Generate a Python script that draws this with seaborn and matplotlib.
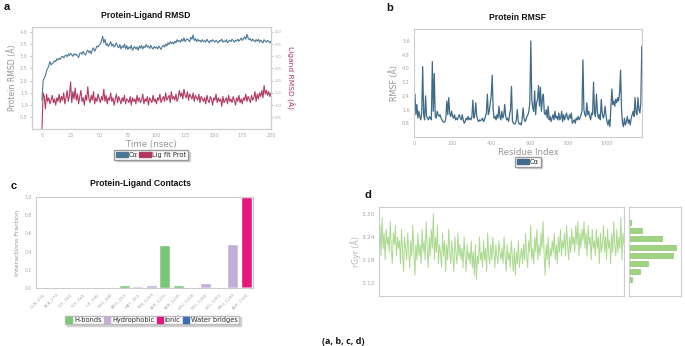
import numpy as np
import pandas as pd
import matplotlib
matplotlib.use("Agg")
import matplotlib.pyplot as plt
import seaborn as sns
from matplotlib.patches import Patch

# ---------------- data ----------------
time_ns = list(range(0, 201))
ca_rmsd = [
    1.2, 2.0, 2.1, 2.2, 2.4, 2.5, 2.62, 2.78, 2.65, 2.7, 2.75,
    2.82, 2.78, 2.9, 2.85, 2.92, 2.88, 2.97, 3.0, 2.93, 3.02,
    3.05, 2.98, 3.1, 3.03, 3.12, 3.07, 3.0, 3.1, 3.05, 3.08,
    3.02, 2.95, 3.12, 3.15, 3.08, 3.2, 3.1, 3.05, 3.18, 3.25,
    3.15, 3.22, 3.1, 3.28, 3.35, 3.2, 3.3, 3.42, 3.38, 3.45,
    3.5, 3.62, 3.82, 3.55, 3.7, 3.45, 3.52, 3.4, 3.48, 3.6,
    3.42, 3.5, 3.38, 3.45, 3.55, 3.4, 3.35, 3.48, 3.3, 3.42,
    3.36, 3.5, 3.3, 3.44, 3.28, 3.38, 3.32, 3.45, 3.25, 3.35,
    3.4, 3.3, 3.38, 3.25, 3.42, 3.33, 3.45, 3.3, 3.4, 3.36,
    3.48, 3.38, 3.42, 3.32, 3.45, 3.35, 3.3, 3.4, 3.34, 3.38,
    3.3, 3.42, 3.35, 3.28, 3.4, 3.45, 3.38, 3.5, 3.42, 3.55,
    3.48, 3.6, 3.52, 3.58, 3.5, 3.62, 3.55, 3.68, 3.6, 3.65,
    3.58, 3.7, 3.62, 3.75, 3.6, 3.68, 3.72, 3.65, 3.6, 3.78,
    3.7, 3.88, 3.65, 3.72, 3.6, 3.7, 3.62, 3.66, 3.58, 3.68,
    3.6, 3.64, 3.58, 3.7, 3.62, 3.55, 3.65, 3.6, 3.68, 3.62,
    3.58, 3.66, 3.6, 3.55, 3.65, 3.62, 3.7, 3.58, 3.63, 3.6,
    3.68, 3.55, 3.62, 3.66, 3.6, 3.7, 3.64, 3.58, 3.66, 3.62,
    3.7, 3.62, 3.68, 3.75, 3.65, 3.72, 3.8, 3.7, 3.9, 3.75,
    3.68, 3.72, 3.62, 3.7, 3.65, 3.6, 3.68, 3.62, 3.7, 3.58,
    3.66, 3.6, 3.55, 3.68, 3.62, 3.58, 3.65, 3.6, 3.55, 3.62,
]
lig_rmsd = [
    0.0, 1.5, 1.35, 0.85, 1.45, 1.15, 1.3, 1.05, 1.2, 1.4, 1.1,
    1.25, 1.0, 1.3, 1.15, 1.45, 1.1, 1.35, 1.2, 1.5, 1.05,
    1.3, 1.6, 1.15, 1.4, 1.95, 1.1, 1.55, 1.25, 1.7, 1.2,
    1.45, 1.05, 1.35, 1.6, 1.15, 1.3, 1.0, 1.4, 1.2, 1.75,
    1.25, 1.1, 1.4, 1.2, 1.55, 1.05, 1.3, 1.15, 1.45, 1.25,
    1.1, 1.35, 1.2, 1.65, 1.15, 1.4, 1.05, 1.3, 1.2, 1.5,
    1.15, 1.3, 1.0, 1.25, 1.45, 1.1, 1.35, 1.2, 1.05, 1.3,
    1.15, 1.4, 1.05, 1.25, 1.2, 1.1, 1.35, 1.0, 1.3, 1.15,
    1.25, 1.05, 1.4, 1.15, 1.3, 1.1, 1.2, 1.45, 1.05, 1.25,
    1.15, 1.35, 1.0, 1.3, 1.2, 1.1, 1.4, 1.15, 1.25, 1.05,
    1.3, 1.2, 1.45, 1.1, 1.25, 1.35, 1.15, 1.5, 1.2, 1.3,
    1.4, 1.1, 1.55, 1.25, 1.35, 1.2, 1.45, 1.15, 1.3, 1.6,
    1.35, 1.5, 1.25, 1.65, 1.4, 1.3, 1.55, 1.2, 1.45, 1.35,
    1.25, 1.5, 1.15, 1.4, 1.3, 1.2, 1.45, 1.1, 1.35, 1.25,
    1.15, 1.3, 1.05, 1.4, 1.2, 1.1, 1.35, 1.25, 1.0, 1.3,
    1.2, 1.45, 1.1, 1.3, 1.15, 1.25, 0.95, 1.35, 1.1, 1.2,
    1.3, 1.05, 1.4, 1.15, 1.25, 1.1, 1.35, 1.2, 1.0, 1.3,
    1.15, 1.4, 1.1, 1.25, 1.05, 1.3, 1.2, 1.45, 1.15, 1.35,
    1.25, 1.1, 1.4, 1.2, 1.3, 1.55, 1.15, 1.45, 1.25, 1.5,
    1.35, 1.6, 1.3, 1.8, 1.45, 1.6, 1.4, 1.55, 1.35, 1.5,
]

residue_index = list(range(0, 1181, 5))
rmsf = [
    1.6, 2.5, 1.3, 1.9, 1.1, 1.5, 1.2, 1.0, 1.4, 4.1,
    1.3, 1.0, 2.4, 1.2, 1.1, 1.0, 1.2, 1.1, 1.0, 4.4,
    1.5, 3.7, 1.2, 1.1, 1.5, 1.3, 1.2, 1.3, 1.1, 1.0,
    0.9, 0.85, 0.9, 1.1, 2.1, 1.3, 2.3, 1.4, 1.2, 1.5,
    1.2, 1.1, 1.3, 1.0, 1.1, 1.0, 1.2, 1.3, 1.1, 1.0,
    1.3, 1.0, 0.8, 0.9, 1.1, 1.0, 1.2, 1.0, 1.1, 1.0,
    1.2, 2.15, 1.1, 1.3, 2.0, 1.2, 1.0, 0.9, 1.0, 0.95,
    1.0, 1.1, 0.9, 1.0, 1.2, 1.4, 2.5, 1.3, 1.5, 2.0,
    2.4, 3.6, 1.6, 1.1, 1.2, 1.0, 1.3, 1.1, 1.8, 1.2,
    1.0, 1.5, 1.1, 1.3, 1.9, 1.2, 1.0, 1.1, 0.9, 1.3,
    1.6, 2.95, 0.9, 0.8, 0.75, 0.8, 1.0, 1.6, 0.9, 0.75,
    0.8, 0.7, 1.0, 1.7, 1.1, 0.9, 1.0, 1.2, 1.3, 1.5,
    2.0, 5.6, 2.2, 1.7, 1.5, 2.7, 1.3, 2.0, 2.2, 3.0,
    1.8, 2.9, 1.5, 2.2, 2.5, 1.4, 1.3, 1.6, 1.1, 1.8,
    1.0, 1.2, 0.9, 1.1, 1.3, 1.0, 1.5, 1.1, 1.2, 1.0,
    1.4, 1.0, 1.1, 1.5, 0.9, 1.3, 1.0, 1.2, 1.4, 1.1,
    1.0, 1.3, 1.1, 1.4, 0.8, 0.9, 1.0, 0.8, 1.1, 1.0,
    1.2, 1.0, 1.1, 1.3, 1.5, 4.5, 1.6, 1.3, 1.2, 2.0,
    1.3, 1.5, 1.2, 1.0, 1.4, 1.3, 3.2, 1.4, 1.2, 2.5,
    1.5, 1.1, 1.3, 1.0, 2.2, 1.4, 1.1, 1.3, 1.8, 1.2,
    0.9, 0.7, 1.0, 0.6, 1.8, 2.8, 1.9, 2.1, 1.8, 2.2,
    2.0, 2.3, 2.1, 2.6, 3.9, 1.6, 0.8, 0.6, 1.1, 0.7,
    0.9, 1.2, 0.8, 1.0, 0.7, 1.1, 1.3, 1.5, 1.2, 2.3,
    1.4, 1.3, 2.3, 1.6, 1.4, 2.0, 5.3,
]

contact_residues = ["GLN_270", "ALA_274", "GLY_344", "GLY_345", "ILE_346", "LEU_348",
                    "ARG_353", "MET_361", "TYR_1219", "SER_1231", "SER_1235", "LEU_1258",
                    "LEU_1260", "LEU_1261", "PRO_1290", "ASP_1320"]
hbonds        = [0, 0, 0, 0, 0, 0, 0.03, 0, 0, 0.47, 0.03, 0, 0, 0, 0, 0]
hydrophobic   = [0.003, 0.006, 0, 0, 0.015, 0, 0, 0.025, 0.035, 0, 0, 0.006, 0.06, 0.014, 0.485, 0]
ionic         = [0, 0, 0, 0, 0, 0, 0, 0, 0, 0, 0, 0, 0, 0, 0, 1.0]
water_bridges = [0, 0, 0, 0.006, 0, 0.009, 0, 0, 0, 0, 0, 0, 0, 0, 0, 0]

rgyr_frame = list(range(0, 240))
rgyr = [
    3.22, 3.27, 3.19, 3.29, 3.21, 3.25, 3.18, 3.26, 3.22, 3.24,
    3.2, 3.28, 3.21, 3.17, 3.25, 3.22, 3.27, 3.19, 3.24, 3.21,
    3.23, 3.17, 3.26, 3.2, 3.15, 3.24, 3.21, 3.18, 3.25, 3.2,
    3.16, 3.23, 3.19, 3.27, 3.2, 3.14, 3.22, 3.18, 3.25, 3.19,
    3.22, 3.17, 3.26, 3.2, 3.23, 3.18, 3.28, 3.21, 3.16, 3.24,
    3.19, 3.26, 3.21, 3.3, 3.18, 3.24, 3.2, 3.27, 3.17, 3.22,
    3.2, 3.16, 3.25, 3.19, 3.23, 3.15, 3.22, 3.18, 3.26, 3.2,
    3.17, 3.23, 3.19, 3.15, 3.24, 3.2, 3.17, 3.25, 3.19, 3.22,
    3.18, 3.21, 3.16, 3.24, 3.19, 3.15, 3.22, 3.18, 3.2, 3.17,
    3.23, 3.16, 3.2, 3.14, 3.22, 3.13, 3.19, 3.17, 3.24, 3.18,
    3.2, 3.16, 3.23, 3.18, 3.21, 3.15, 3.25, 3.19, 3.17, 3.22,
    3.18, 3.24, 3.2, 3.16, 3.22, 3.19, 3.17, 3.23, 3.2, 3.18,
    3.21, 3.17, 3.24, 3.19, 3.15, 3.22, 3.18, 3.2, 3.16, 3.23,
    3.19, 3.15, 3.21, 3.14, 3.2, 3.17, 3.23, 3.16, 3.19, 3.21,
    3.17, 3.22, 3.18, 3.25, 3.19, 3.16, 3.23, 3.2, 3.27, 3.18,
    3.21, 3.17, 3.24, 3.2, 3.26, 3.18, 3.22, 3.19, 3.25, 3.21,
    3.28, 3.2, 3.14, 3.22, 3.18, 3.24, 3.16, 3.21, 3.19, 3.23,
    3.2, 3.25, 3.18, 3.22, 3.17, 3.24, 3.2, 3.26, 3.19, 3.23,
    3.21, 3.25, 3.19, 3.27, 3.22, 3.18, 3.24, 3.2, 3.26, 3.22,
    3.24, 3.2, 3.27, 3.22, 3.28, 3.19, 3.25, 3.21, 3.26, 3.23,
    3.28, 3.21, 3.25, 3.19, 3.27, 3.22, 3.24, 3.18, 3.26, 3.21,
    3.23, 3.19, 3.26, 3.21, 3.24, 3.17, 3.25, 3.2, 3.22, 3.27,
    3.2, 3.24, 3.18, 3.26, 3.21, 3.23, 3.17, 3.25, 3.2, 3.28,
    3.22, 3.19, 3.26, 3.2, 3.24, 3.21, 3.29, 3.18, 3.25, 3.22,
]
hist_centers = [3.127, 3.148, 3.170, 3.191, 3.212, 3.233, 3.255, 3.276, 3.297]
hist_counts = [11, 35, 59, 137, 146, 103, 42, 10, 3]

# ---------------- style ----------------
sns.set_theme(style="white")
plt.rcParams['font.family'] = ['DejaVu Sans']

BLUE = "#4d7893"
BLUE_B = "#3f6a88"
CRIMSON = "#b1385f"
GREEN_L = "#abd98f"
GREEN_H = "#9fd283"
C_HB = "#7cc67a"
C_HY = "#c2aed6"
C_IO = "#e8157c"
C_WB = "#3b6db3"
GRAY_T = "#a8a8a8"
GRAY_L = "#959595"
SPINE = "#cccccc"

W, H = 685, 346
fig = plt.figure(figsize=(W / 100, H / 100), dpi=100)


def box(x0, y0, x1, y1):
    return [x0 / W, 1 - y1 / H, (x1 - x0) / W, (y1 - y0) / H]


def style_ax(ax, lsize=3.5):
    for s in ax.spines.values():
        s.set_color(SPINE)
        s.set_linewidth(0.8)
    ax.tick_params(labelsize=lsize, colors=GRAY_T, length=1.5, width=0.5, pad=1.5)


def ftext(x, y, s, **kw):
    fig.text(x / W, 1 - y / H, s, ha="center", va="center", **kw)


TITLE_KW = dict(fontsize=6.2, fontweight="bold", family=["Liberation Sans", "DejaVu Sans"], color="#111111")
LAB_KW = dict(fontsize=8, fontweight="bold", family=["Liberation Sans", "DejaVu Sans"], color="#111111")
SHADOW = {"ox": 1.2, "oy": -1.2, "color": "#cfcfcf", "alpha": 1.0}

# ---------------- panel a ----------------
axa = fig.add_axes(box(32, 27, 271, 129))
df_a = pd.DataFrame({"t": time_ns, "ca": ca_rmsd, "lig": lig_rmsd})
sns.lineplot(data=df_a, x="t", y="ca", ax=axa, color=BLUE, linewidth=0.8)
axa.set_xlim(-8.7, 200)
axa.set_ylim(0.02, 4.2)
axa.set_yticks([0.5, 1.0, 1.5, 2.0, 2.5, 3.0, 3.5, 4.0])
axa.set_xticks(range(0, 201, 25))
axa.set_xlabel("Time (nsec)", fontsize=6.2, color=GRAY_L, labelpad=1)
axa.set_ylabel("Protein RMSD (Å)", fontsize=5.6, color=GRAY_L, labelpad=2)
style_ax(axa)
axr = axa.twinx()
sns.lineplot(data=df_a, x="t", y="lig", ax=axr, color=CRIMSON, linewidth=0.8)
axr.set_ylim(0.02, 4.2)
axr.set_yticks([0.5, 1.0, 1.5, 2.0, 2.5, 3.0, 3.5, 4.0])
axr.set_ylabel("")
style_ax(axr, lsize=3.2)
axr.tick_params(pad=1)
ftext(290, 78, "Ligand RMSD (Å)", fontsize=5.4, color=CRIMSON, rotation=270)
axa.set_zorder(axr.get_zorder() + 1)
axa.patch.set_visible(False)
ftext(146, 15, "Protein-Ligand RMSD", **TITLE_KW)
ftext(7, 6.5, "a", **LAB_KW)
fig.legend(handles=[Patch(color=BLUE, label="Cα"), Patch(color=CRIMSON, label="Lig fit Prot")],
           loc="center", bbox_to_anchor=(151 / W, 1 - 155 / H), ncol=2, fontsize=4.8,
           handlelength=1.8, handleheight=0.8, handletextpad=0.15, columnspacing=0.2,
           borderpad=0.25, frameon=True, shadow=SHADOW, fancybox=False, edgecolor="#999999")

# ---------------- panel b ----------------
axb = fig.add_axes(box(414, 29, 642, 137))
df_b = pd.DataFrame({"res": residue_index, "rmsf": rmsf})
sns.lineplot(data=df_b, x="res", y="rmsf", ax=axb, color=BLUE_B, linewidth=0.9)
axb.set_xlim(0, 1181)
axb.set_ylim(0, 6.3)
axb.set_yticks([0.8, 1.6, 2.4, 3.2, 4.0, 4.8, 5.6])
axb.set_xticks([0, 200, 400, 600, 800, 1000])
axb.set_xlabel("Residue Index", fontsize=6.2, color=GRAY_L, labelpad=1)
axb.set_ylabel("RMSF (Å)", fontsize=5.8, color=GRAY_L, labelpad=2)
style_ax(axb)
ftext(517, 17.5, "Protein RMSF", **TITLE_KW)
ftext(390, 8, "b", **LAB_KW)
fig.legend(handles=[Patch(color=BLUE_B, label="Cα")],
           loc="center", bbox_to_anchor=(528 / W, 1 - 162 / H), fontsize=4.8,
           handlelength=1.8, handleheight=0.8, handletextpad=0.15,
           borderpad=0.25, frameon=True, shadow=SHADOW, fancybox=False, edgecolor="#999999")

# ---------------- panel c ----------------
axc = fig.add_axes(box(36, 197, 253, 288))
cum1 = np.array(hbonds)
cum2 = cum1 + np.array(hydrophobic)
cum3 = cum2 + np.array(ionic)
cum4 = cum3 + np.array(water_bridges)
for vals, col in [(cum4, C_WB), (cum3, C_IO), (cum2, C_HY), (cum1, C_HB)]:
    sns.barplot(x=contact_residues, y=vals, ax=axc, color=col, saturation=1,
                width=0.8, errorbar=None, order=contact_residues)
axc.set_ylim(0, 1.0)
axc.set_yticks([0.0, 0.2, 0.4, 0.6, 0.8, 1.0])
axc.set_ylabel("Interactions Fraction", fontsize=4.6, color=GRAY_L, labelpad=3)
style_ax(axc, lsize=3.3)
plt.setp(axc.get_xticklabels(), rotation=45, ha="right", rotation_mode="anchor", fontsize=3.2)
ftext(140, 183, "Protein-Ligand Contacts", **TITLE_KW)
ftext(14, 186, "c", **LAB_KW)
fig.legend(handles=[Patch(color=C_HB, label="H-bonds"), Patch(color=C_HY, label="Hydrophobic"),
                    Patch(color=C_IO, label="Ionic"), Patch(color=C_WB, label="Water bridges")],
           loc="center", bbox_to_anchor=(152 / W, 1 - 320 / H), ncol=4, fontsize=4.8,
           handlelength=0.9, handleheight=0.9, handletextpad=0.25, columnspacing=0.4,
           borderpad=0.2, frameon=True, shadow=SHADOW, fancybox=False, edgecolor="#bbbbbb")

# ---------------- panel d ----------------
axd = fig.add_axes(box(379, 207, 624, 296))
df_d = pd.DataFrame({"frame": rgyr_frame, "rgyr": rgyr})
sns.lineplot(data=df_d, x="frame", y="rgyr", ax=axd, color=GREEN_L, linewidth=0.7)
axd.set_xlim(0, 239)
axd.set_ylim(3.086, 3.318)
axd.set_yticks([3.12, 3.18, 3.24, 3.30])
axd.set_yticklabels(["3.12", "3.18", "3.24", "3.30"])
axd.set_xticks(np.linspace(0, 239, 9))
axd.set_xticklabels([])
axd.set_xlabel("")
axd.set_ylabel("")
style_ax(axd, lsize=4.4)
axd.tick_params(axis="x", length=4, direction="out", colors="#bbbbbb")
ftext(356, 252, "rGyr (Å)", fontsize=5.6, color="#b5b5b5", rotation=90)
ftext(368, 195, "d", **LAB_KW)

axh = fig.add_axes(box(629, 207, 681, 296))
sns.histplot(y=hist_centers, weights=hist_counts, binwidth=0.0213, binrange=(3.1163, 3.3080),
             ax=axh, color=GREEN_H, alpha=1, edgecolor="none", shrink=0.72)
axh.set_ylim(3.086, 3.318)
axh.set_xlim(0, 157)
axh.set_yticks([3.12, 3.18, 3.24, 3.30])
axh.set_yticklabels([])
axh.set_xticks([])
axh.set_xlabel("")
axh.set_ylabel("")
style_ax(axh)

ftext(343, 341, "(a, b, c, d)", fontsize=6.5, fontweight="bold",
      family=["Open Sans", "DejaVu Sans"], color="#111111")

fig.savefig("out.png", dpi=100)
